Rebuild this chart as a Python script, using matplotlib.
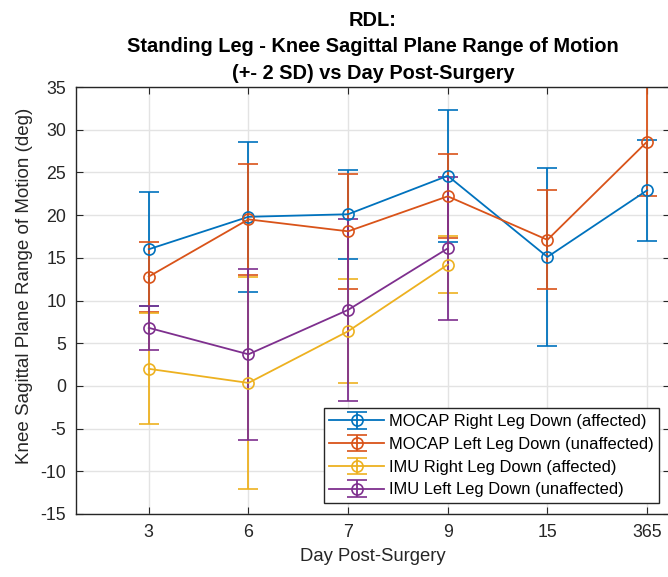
import matplotlib.pyplot as plt
import numpy as np

plt.rcParams['font.family'] = ['Liberation Sans', 'DejaVu Sans']
plt.rcParams['axes.unicode_minus'] = False

days = ['3', '6', '7', '9', '15', '365']

mocap_right = [16.0, 19.8, 20.1, 24.6, 15.1, 22.9]
mocap_right_sd = [6.7, 8.8, 5.2, 7.7, 10.4, 5.9]
mocap_left = [12.8, 19.5, 18.1, 22.2, 17.1, 28.6]
mocap_left_sd = [4.1, 6.5, 6.7, 4.9, 5.8, 6.4]
imu_right = [2.0, 0.35, 6.4, 14.2]
imu_right_sd = [6.5, 12.4, 6.1, 3.3]
imu_left = [6.8, 3.7, 8.9, 16.1]
imu_left_sd = [2.6, 10.0, 10.7, 8.4]

names = ['MOCAP Right Leg Down (affected)', 'MOCAP Left Leg Down (unaffected)',
         'IMU Right Leg Down (affected)', 'IMU Left Leg Down (unaffected)']
colors = ['#0072BD', '#D95319', '#EDB120', '#7E2F8E']

fig = plt.figure(figsize=(6.68, 5.77), dpi=100)
ax = fig.add_axes([76/668, 1 - 514/577, (670 - 76)/668, (514 - 87)/577])

series = [(mocap_right, mocap_right_sd), (mocap_left, mocap_left_sd),
          (imu_right, imu_right_sd), (imu_left, imu_left_sd)]
for (vals, sd), name, c in zip(series, names, colors):
    x = np.arange(1, len(vals) + 1)
    ax.errorbar(x, vals, yerr=sd, color=c, marker='o', markersize=8,
                markerfacecolor='none', markeredgewidth=1.2, linewidth=1.3,
                elinewidth=1.3, capsize=7, capthick=1.3, label=name)

ax.set_xlim(0.27, 6.23)
ax.set_ylim(-15, 35)
ax.set_xticks(np.arange(1, 7))
ax.set_xticklabels(days)
ax.set_yticks(np.arange(-15, 36, 5))
ax.tick_params(direction='in', top=True, right=True, length=5, labelsize=12.8,
               color='#262626', labelcolor='#262626', pad=7)
ax.grid(True, color='#e3e3e3', linewidth=1)
ax.set_axisbelow(True)
for s in ax.spines.values():
    s.set_color('#262626')
    s.set_linewidth(1)

ax.set_xlabel('Day Post-Surgery', fontsize=13.3, color='#262626', labelpad=5)
ax.set_ylabel('Knee Sagittal Plane Range of Motion (deg)', fontsize=13.5,
              color='#262626')
ax.yaxis.set_label_coords(-0.072, 0.534)
ax.set_title('RDL:\nStanding Leg - Knee Sagittal Plane Range of Motion\n(+- 2 SD) vs Day Post-Surgery',
             fontsize=14.4, fontweight='bold', pad=6, linespacing=1.48)

leg = ax.legend(loc='lower right', fontsize=11.9, frameon=True, fancybox=False,
                edgecolor='#262626', framealpha=1, borderaxespad=0.65,
                handlelength=3.3, labelspacing=0.47, handletextpad=0.3, borderpad=0.35)
leg.get_frame().set_linewidth(1)

fig.savefig('out.png', dpi=100)
